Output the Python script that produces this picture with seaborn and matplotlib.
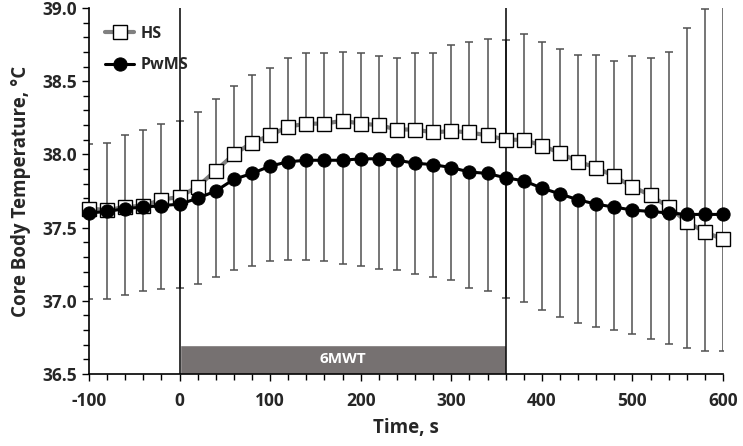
import numpy as np
import pandas as pd
import matplotlib
matplotlib.use("Agg")
import matplotlib.pyplot as plt
from matplotlib.ticker import MultipleLocator
import seaborn as sns

time_s = list(range(-100, 601, 20))

hs_mean = [37.63, 37.62, 37.64, 37.65, 37.69, 37.71, 37.78, 37.89, 38.00, 38.08,
           38.13, 38.19, 38.21, 38.21, 38.23, 38.21, 38.20, 38.17, 38.17, 38.15,
           38.16, 38.15, 38.13, 38.10, 38.10, 38.06, 38.01, 37.95, 37.91, 37.85,
           37.78, 37.72, 37.64, 37.54, 37.47, 37.42]
hs_upper = [38.07, 38.08, 38.13, 38.17, 38.21, 38.23, 38.29, 38.38, 38.47, 38.54,
            38.59, 38.66, 38.69, 38.69, 38.70, 38.69, 38.67, 38.66, 38.69, 38.69,
            38.75, 38.77, 38.79, 38.78, 38.82, 38.77, 38.72, 38.68, 38.68, 38.64,
            38.67, 38.66, 38.70, 38.86, 38.99, 39.05]

pw_mean = [37.60, 37.61, 37.63, 37.64, 37.65, 37.66, 37.70, 37.75, 37.83, 37.87,
           37.92, 37.95, 37.96, 37.96, 37.96, 37.97, 37.97, 37.96, 37.94, 37.93,
           37.91, 37.88, 37.87, 37.84, 37.82, 37.77, 37.73, 37.69, 37.66, 37.64,
           37.62, 37.61, 37.60, 37.59, 37.59, 37.59]
pw_lower = [37.01, 37.01, 37.04, 37.065, 37.08, 37.09, 37.115, 37.16, 37.21, 37.24,
            37.27, 37.28, 37.28, 37.27, 37.25, 37.24, 37.22, 37.21, 37.18, 37.16,
            37.14, 37.09, 37.065, 37.02, 36.99, 36.94, 36.89, 36.85, 36.82, 36.80,
            36.77, 36.74, 36.705, 36.68, 36.66, 36.66]

group_labels = ["HS", "PwMS"]
walk_label = "6MWT"
walk_start, walk_end = 0, 360
walk_bar_top = 36.7

sns.set_theme(style="white")
plt.rcParams["font.family"] = ["Open Sans", "DejaVu Sans"]
plt.rcParams["font.weight"] = "bold"
plt.rcParams["axes.unicode_minus"] = False

fig = plt.figure(figsize=(7.43, 4.46), dpi=100)
ax = fig.add_axes([89 / 743, 1 - 374 / 446, (723 - 89) / 743, (374 - 8) / 446])

df_hs = pd.DataFrame({"t": time_s, "v": hs_mean})
df_pw = pd.DataFrame({"t": time_s, "v": pw_mean})

hs_arr = np.array(hs_mean)
pw_arr = np.array(pw_mean)
err_col = "#505050"
ax.errorbar(time_s, hs_arr, yerr=[np.zeros_like(hs_arr), np.array(hs_upper) - hs_arr],
            fmt="none", ecolor=err_col, elinewidth=1.1, capsize=3, capthick=1.1, zorder=2)
ax.errorbar(time_s, pw_arr, yerr=[pw_arr - np.array(pw_lower), np.zeros_like(pw_arr)],
            fmt="none", ecolor=err_col, elinewidth=1.1, capsize=3, capthick=1.1, zorder=2)

# 6MWT bar
ax.bar([(walk_start + walk_end) / 2], [walk_bar_top - 36.5], bottom=36.5,
       width=walk_end - walk_start, color="#767171", zorder=1)
ax.text((walk_start + walk_end) / 2, (36.5 + walk_bar_top) / 2, walk_label,
        color="white", ha="center", va="center", fontsize=11, fontweight="bold", zorder=3)
ax.axvline(walk_start, color="black", lw=1.1, zorder=2.5)
ax.axvline(walk_end, color="black", lw=1.1, zorder=2.5)

sns.lineplot(data=df_hs, x="t", y="v", ax=ax, color="#808080", lw=3,
             marker="s", markersize=9.5, markerfacecolor="white",
             markeredgecolor="black", markeredgewidth=1.0, label=group_labels[0],
             zorder=4, clip_on=False)
sns.lineplot(data=df_pw, x="t", y="v", ax=ax, color="black", lw=2.2,
             marker="o", markersize=9.5, markerfacecolor="black",
             markeredgecolor="black", label=group_labels[1], zorder=5, clip_on=False)

ax.set_xlim(-100, 600)
ax.set_ylim(36.5, 39.0)
ax.xaxis.set_major_locator(MultipleLocator(100))
ax.xaxis.set_minor_locator(MultipleLocator(20))
ax.yaxis.set_major_locator(MultipleLocator(0.5))
ax.yaxis.set_minor_locator(MultipleLocator(0.1))
ax.yaxis.set_major_formatter(matplotlib.ticker.FormatStrFormatter("%.1f"))
ax.tick_params(axis="both", which="both", direction="out", color="black",
               bottom=True, left=True, labelsize=12.5, width=1)
ax.tick_params(which="major", length=5)
ax.tick_params(which="minor", length=4)
ax.tick_params(axis="x", pad=8)
for lab in ax.get_xticklabels() + ax.get_yticklabels():
    lab.set_fontweight("bold")

for s in ["top", "right"]:
    ax.spines[s].set_visible(False)
for s in ["left", "bottom"]:
    ax.spines[s].set_color("black")
    ax.spines[s].set_linewidth(1.2)

ax.set_xlabel("Time, s", fontsize=13.5, fontweight="bold", labelpad=6)
ax.set_ylabel("Core Body Temperature, °C", fontsize=13.5, fontweight="bold", labelpad=8)

leg = ax.legend(loc="upper left", bbox_to_anchor=(0.003, 0.99), frameon=False,
                handlelength=1.8, handletextpad=0.4, labelspacing=0.95,
                prop={"family": ["Open Sans", "DejaVu Sans"], "weight": "bold", "size": 11.5})

fig.savefig("out.png", dpi=100)
